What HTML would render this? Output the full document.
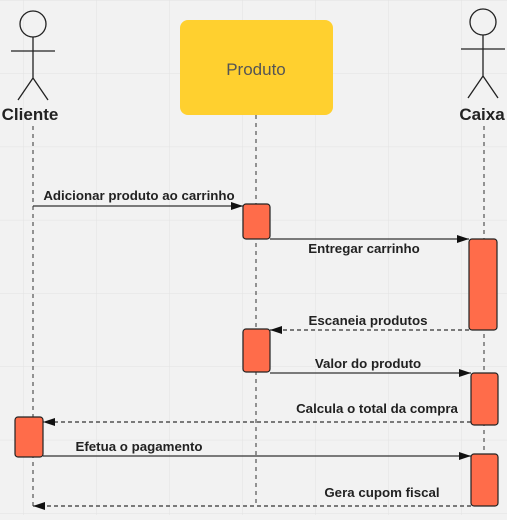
<!DOCTYPE html>
<html><head><style>
html,body{margin:0;padding:0;}
body{width:507px;height:515px;overflow:hidden;background:#f2f2f2;}
svg text{font-family:"Liberation Sans","DejaVu Sans",sans-serif;}
</style></head><body>
<svg width="507" height="515" xmlns="http://www.w3.org/2000/svg">
<defs>
<pattern id="g" x="23" y="0" width="73" height="73.3" patternUnits="userSpaceOnUse">
<path d="M0 0V74M0 0H74" stroke="#e2e2e2" stroke-width="1" fill="none"/>
</pattern>
<marker id="a" markerWidth="12" markerHeight="8" refX="12" refY="4" orient="auto" markerUnits="userSpaceOnUse">
<path d="M0 0L12 4L0 8z" fill="#111"/>
</marker>
</defs>
<rect width="507" height="515" fill="url(#g)"/>
<g stroke="#222" stroke-width="1.3" fill="none">
<circle cx="33" cy="24" r="13"/><path d="M33 37V78M11 51H55M33 78L18 100M33 78L48 100"/>
<circle cx="483" cy="22" r="13"/><path d="M483 35V76M461 49H505M483 76L468 98M483 76L498 98"/>
</g>
<text x="30" y="120" font-size="17" font-weight="bold" text-anchor="middle" fill="#222">Cliente</text>
<text x="482" y="120" font-size="17" font-weight="bold" text-anchor="middle" fill="#222">Caixa</text>
<rect x="180" y="20" width="153" height="95" rx="8" fill="#ffd02f"/>
<text x="256" y="75" font-size="17" text-anchor="middle" fill="#555">Produto</text>
<g stroke="#333" stroke-width="1" stroke-dasharray="4,4" fill="none">
<path d="M33 126V506"/><path d="M256 115V506"/><path d="M484 126V506"/>
</g>
<g stroke="#333" stroke-width="1.2" fill="none">
<path d="M33 206H243" marker-end="url(#a)"/>
<path d="M270 239H469" marker-end="url(#a)"/>
<path d="M469 330H270" stroke-dasharray="4,3" marker-end="url(#a)"/>
<path d="M270 373H471" marker-end="url(#a)"/>
<path d="M471 422H43" stroke-dasharray="4,3" marker-end="url(#a)"/>
<path d="M43 456H471" marker-end="url(#a)"/>
<path d="M471 506H33" stroke-dasharray="4,3" marker-end="url(#a)"/>
</g>
<g fill="#ff6c4a" stroke="#222" stroke-width="1.2">
<rect x="243" y="204" width="27" height="35" rx="3"/>
<rect x="469" y="239" width="28" height="91" rx="3"/>
<rect x="243" y="329" width="27" height="43" rx="3"/>
<rect x="471" y="373" width="27" height="52" rx="3"/>
<rect x="15" y="417" width="28" height="40" rx="3"/>
<rect x="471" y="454" width="27" height="52" rx="3"/>
</g>
<g font-size="13.3" font-weight="bold" fill="#222" text-anchor="middle">
<text x="139" y="200">Adicionar produto ao carrinho</text>
<text x="364" y="253">Entregar carrinho</text>
<text x="368" y="325">Escaneia produtos</text>
<text x="368" y="368">Valor do produto</text>
<text x="377" y="413">Calcula o total da compra</text>
<text x="139" y="451">Efetua o pagamento</text>
<text x="382" y="497">Gera cupom fiscal</text>
</g>
</svg>
</body></html>
